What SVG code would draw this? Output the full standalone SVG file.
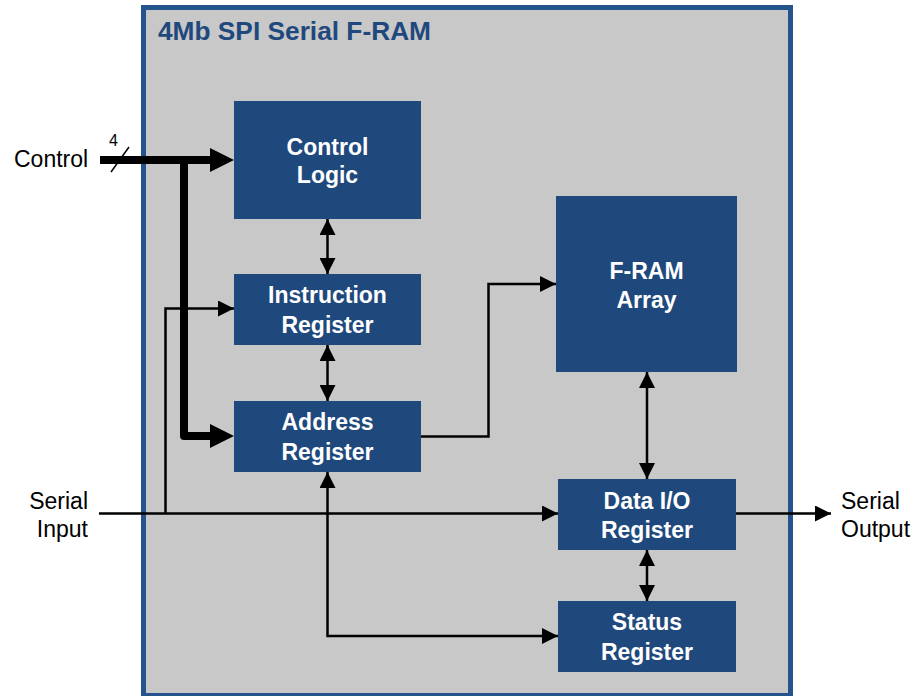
<svg xmlns="http://www.w3.org/2000/svg" width="924" height="696" viewBox="0 0 924 696">
<style>
.frame{fill:#C8C8C8;stroke:#25538E;stroke-width:5}
.box{fill:#1F497D}
.bt{font-family:"Liberation Sans",Arial,sans-serif;font-weight:bold;font-size:23px;fill:#FFFFFF;text-anchor:middle}
.ext{font-family:"Liberation Sans",Arial,sans-serif;font-size:23px;fill:#000000}
.title{font-family:"Liberation Sans",Arial,sans-serif;font-weight:bold;font-size:25px;fill:#1F497D}
.thin{fill:none;stroke:#000;stroke-width:2.5}
.thick{fill:none;stroke:#000;stroke-width:8;stroke-linejoin:round}
</style>
<defs>
<marker id="ah" viewBox="0 0 16 16" refX="16" refY="8" markerWidth="16" markerHeight="16" markerUnits="userSpaceOnUse" orient="auto-start-reverse">
<path d="M0,0 L16,8 L0,16 z" fill="#000"/>
</marker>
</defs>
<rect class="frame" x="143.5" y="7.5" width="647" height="688"/>
<text class="title" x="158" y="40" textLength="273" lengthAdjust="spacingAndGlyphs">4Mb SPI Serial F-RAM</text>

<g id="control-logic">
<rect class="box" x="234" y="101" width="187" height="118"/>
<text class="bt" x="327.5" y="155">Control</text>
<text class="bt" x="327.5" y="183">Logic</text>
</g>
<g id="instruction-register">
<rect class="box" x="234" y="274" width="187" height="71"/>
<text class="bt" x="327.5" y="303">Instruction</text>
<text class="bt" x="327.5" y="332.5">Register</text>
</g>
<g id="address-register">
<rect class="box" x="234" y="401" width="187" height="71"/>
<text class="bt" x="327.5" y="430">Address</text>
<text class="bt" x="327.5" y="459.5">Register</text>
</g>
<g id="fram-array">
<rect class="box" x="556" y="196" width="181" height="176"/>
<text class="bt" x="646.5" y="279">F-RAM</text>
<text class="bt" x="646.5" y="307.5">Array</text>
</g>
<g id="data-io-register">
<rect class="box" x="558" y="479" width="178" height="71"/>
<text class="bt" x="647" y="509">Data I/O</text>
<text class="bt" x="647" y="537.5">Register</text>
</g>
<g id="status-register">
<rect class="box" x="558" y="601" width="178" height="71"/>
<text class="bt" x="647" y="630">Status</text>
<text class="bt" x="647" y="659.5">Register</text>
</g>

<g id="labels">
<text class="ext" x="14" y="166.5">Control</text>
<text class="ext" x="109" y="145.5" style="font-size:16px">4</text>
<text class="ext" x="88" y="509" text-anchor="end">Serial</text>
<text class="ext" x="88" y="537" text-anchor="end">Input</text>
<text class="ext" x="841" y="509">Serial</text>
<text class="ext" x="841" y="537">Output</text>
</g>

<g id="connectors">
<path class="thick" d="M100,160 H212"/>
<polygon points="210,148 234,160 210,172" fill="#000"/>
<path class="thick" d="M184,160 V436 H212"/>
<polygon points="210,424 234,436 210,448" fill="#000"/>
<line x1="111" y1="172" x2="129" y2="147" stroke="#000" stroke-width="1.5"/>
<path class="thin" d="M327.5,219 V274" marker-start="url(#ah)" marker-end="url(#ah)"/>
<path class="thin" d="M327.5,345 V401" marker-start="url(#ah)" marker-end="url(#ah)"/>
<path class="thin" d="M327.5,472 V636 H558" marker-start="url(#ah)" marker-end="url(#ah)"/>
<path class="thin" d="M421,436.5 H488.5 V284 H556" marker-end="url(#ah)"/>
<path class="thin" d="M647,372 V479" marker-start="url(#ah)" marker-end="url(#ah)"/>
<path class="thin" d="M647,550 V601" marker-start="url(#ah)" marker-end="url(#ah)"/>
<path class="thin" d="M99,513.5 H558" marker-end="url(#ah)"/>
<path class="thin" d="M165.5,513.5 V308.5 H234" marker-end="url(#ah)"/>
<path class="thin" d="M736,513.5 H831" marker-end="url(#ah)"/>
</g>
</svg>
